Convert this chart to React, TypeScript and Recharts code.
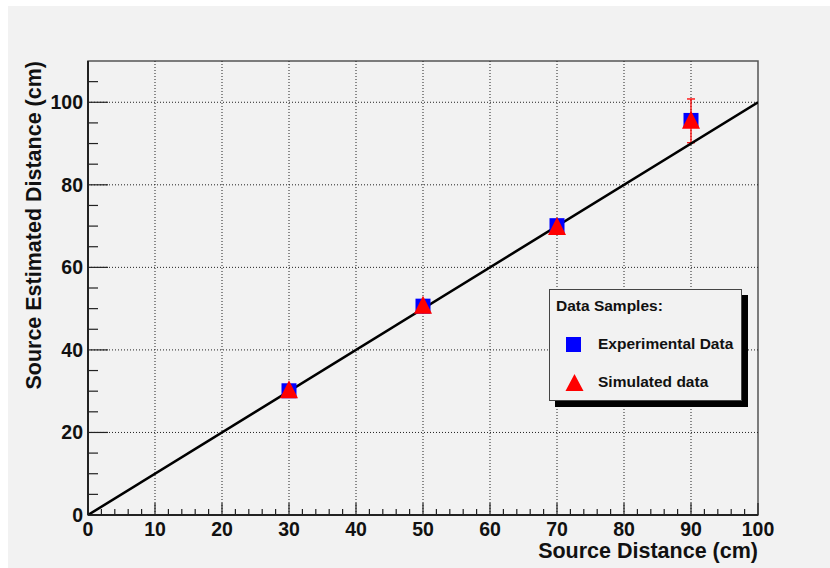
import React from "react";
import {
  ComposedChart,
  Scatter,
  XAxis,
  YAxis,
  ReferenceLine,
  ReferenceArea,
  ErrorBar,
} from "recharts";

// measured points (x = source distance, y = estimated distance, cm)
const experimental = [
  { x: 30, y: 30.1 },
  { x: 50, y: 50.6 },
  { x: 70, y: 70.1 },
  { x: 90, y: 95.6 },
];

const simulated = [
  { x: 30, y: 30.2, err: 0.8 },
  { x: 50, y: 50.7, err: 0.8 },
  { x: 70, y: 69.8, err: 1.2 },
  { x: 90, y: 95.5, err: 5.3 },
];

// y = x reference line
const idealLine = [
  { x: 0, y: 0 },
  { x: 100, y: 100 },
];

const xTicks = [
  0, 2, 4, 6, 8, 10, 12, 14, 16, 18, 20, 22, 24, 26, 28, 30, 32, 34, 36, 38, 40,
  42, 44, 46, 48, 50, 52, 54, 56, 58, 60, 62, 64, 66, 68, 70, 72, 74, 76, 78, 80,
  82, 84, 86, 88, 90, 92, 94, 96, 98, 100,
];
const yTicks = [
  0, 5, 10, 15, 20, 25, 30, 35, 40, 45, 50, 55, 60, 65, 70, 75, 80, 85, 90, 95,
  100, 105,
];
const xGrid = [10, 20, 30, 40, 50, 60, 70, 80, 90];
const yGrid = [20, 40, 60, 80, 100];

const FONT = "'Liberation Sans', Arial, Helvetica, sans-serif";
const BG = "#f2f2f2";

const XTick = (props: any) => {
  const { x, y, payload } = props;
  const v = payload.value;
  const major = v % 10 === 0;
  return (
    <g>
      <line x1={x} x2={x} y1={y} y2={y - (major ? 12 : 6)} stroke="#222" strokeWidth={1.2} />
      {major && (
        <text x={x} y={y + 21} textAnchor="middle" fontSize={19.5} fontWeight="bold" fontFamily={FONT} fill="#111">
          {v}
        </text>
      )}
    </g>
  );
};

const YTick = (props: any) => {
  const { x, y, payload } = props;
  const v = payload.value;
  const major = v % 20 === 0;
  return (
    <g>
      <line x1={x} x2={x + (major ? 20 : 10)} y1={y} y2={y} stroke="#222" strokeWidth={1.2} />
      {major && (
        <text x={x - 5} y={y + 7} textAnchor="end" fontSize={19.5} fontWeight="bold" fontFamily={FONT} fill="#111">
          {v}
        </text>
      )}
    </g>
  );
};

const Square = (props: any) => {
  const { cx, cy } = props;
  if (cx == null || cy == null) return null;
  return <rect x={cx - 7.5} y={cy - 7.5} width={15} height={15} fill="#0000ff" />;
};

const Triangle = (props: any) => {
  const { cx, cy } = props;
  if (cx == null || cy == null) return null;
  return (
    <polygon
      points={`${cx},${cy - 10} ${cx - 9},${cy + 8} ${cx + 9},${cy + 8}`}
      fill="#ff0000"
    />
  );
};

const Nothing = () => null;

export default function App() {
  return (
    <div
      style={{
        position: "absolute",
        left: 8,
        top: 6,
        width: 822,
        height: 562,
        background: BG,
        fontFamily: FONT,
      }}
    >
      <ComposedChart
        width={822}
        height={562}
        margin={{ top: 55, right: 72, bottom: 13, left: 20 }}
      >
        <XAxis
          type="number"
          dataKey="x"
          domain={[0, 100]}
          ticks={xTicks}
          interval={0}
          tickSize={0}
          tickMargin={0}
          tickLine={false}
          height={40}
          axisLine={{ stroke: "#222", strokeWidth: 2 }}
          tick={<XTick />}
          allowDataOverflow
        />
        <YAxis
          type="number"
          dataKey="y"
          domain={[0, 110]}
          ticks={yTicks}
          interval={0}
          tickSize={0}
          tickMargin={0}
          tickLine={false}
          width={60}
          axisLine={{ stroke: "#222", strokeWidth: 2 }}
          tick={<YTick />}
          allowDataOverflow
        />
        <ReferenceArea x1={0} x2={100} y1={0} y2={110} fill="none" stroke="#555" strokeWidth={1.5} />
        {xGrid.map((v) => (
          <ReferenceLine key={"gx" + v} x={v} stroke="#222" strokeDasharray="1 2" strokeWidth={1} />
        ))}
        {yGrid.map((v) => (
          <ReferenceLine key={"gy" + v} y={v} stroke="#222" strokeDasharray="1 2" strokeWidth={1} />
        ))}
        <Scatter
          data={idealLine}
          shape={<Nothing />}
          line={{ stroke: "#000", strokeWidth: 2.5 }}
          lineType="joint"
          isAnimationActive={false}
        />
        <Scatter data={experimental} shape={<Square />} isAnimationActive={false} />
        <Scatter data={simulated} shape={<Triangle />} isAnimationActive={false}>
          <ErrorBar dataKey="err" direction="y" width={4} stroke="#ff0000" strokeWidth={1.3} />
        </Scatter>
      </ComposedChart>

      <svg
        width={822}
        height={562}
        style={{ position: "absolute", left: 0, top: 0, pointerEvents: "none" }}
      >
        <text x={750} y={552} textAnchor="end" fontSize={21.5} fontWeight="bold" fontFamily={FONT} fill="#111">
          Source Distance (cm)
        </text>
        <text
          transform="translate(33,55) rotate(-90)"
          textAnchor="end"
          fontSize={21.5}
          fontWeight="bold"
          fontFamily={FONT}
          fill="#111"
        >
          Source Estimated Distance (cm)
        </text>
      </svg>

      <div
        style={{
          position: "absolute",
          left: 541,
          top: 283,
          width: 191,
          height: 110,
          border: "1.5px solid #444",
          background: BG,
          boxShadow: "6px 6px 0 #000",
          fontWeight: "bold",
          fontSize: 15.5,
          color: "#111",
        }}
      >
        <div style={{ position: "absolute", left: 6, top: 8, lineHeight: "16px" }}>Data Samples:</div>
        <svg width={40} height={110} style={{ position: "absolute", left: 0, top: 0 }}>
          <rect x={16} y={47} width={15} height={15} fill="#0000ff" />
          <polygon points="24.5,84 15.5,101 33.5,101" fill="#ff0000" />
        </svg>
        <div style={{ position: "absolute", left: 48, top: 46, lineHeight: "16px" }}>Experimental Data</div>
        <div style={{ position: "absolute", left: 48, top: 84, lineHeight: "16px" }}>Simulated data</div>
      </div>
    </div>
  );
}
